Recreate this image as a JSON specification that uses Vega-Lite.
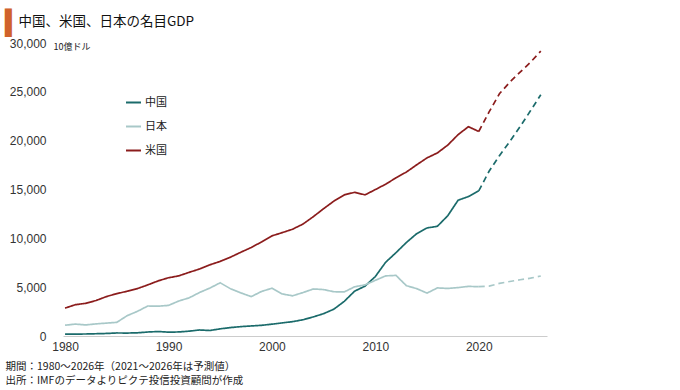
{
  "$schema": "https://vega.github.io/schema/vega-lite/v6.json",
  "width": 484,
  "height": 293,
  "autosize": {"type": "none"},
  "padding": {"left": 63, "top": 43, "right": 133, "bottom": 54},
  "background": "white",
  "config": {"view": {"stroke": null}, "font": "Noto Sans CJK JP"},
  "title": {
    "text": "▍",
    "subtitle": "\u200b\u3000中国、米国、日本の名目GDP",
    "anchor": "start",
    "frame": "group",
    "dx": -58,
    "offset": 1,
    "font": "DejaVu Sans",
    "fontSize": 24,
    "fontWeight": "normal",
    "color": "#d0622a",
    "subtitleFont": "Noto Sans CJK JP",
    "subtitleFontSize": 13.5,
    "subtitleColor": "#111111",
    "subtitlePadding": -21.5
  },
  "data": {
    "values": [
      {"year": 1980, "中国": 191, "日本": 1105, "米国": 2857, "kind": "実績"},
      {"year": 1981, "中国": 196, "日本": 1218, "米国": 3207, "kind": "実績"},
      {"year": 1982, "中国": 205, "日本": 1134, "米国": 3343, "kind": "実績"},
      {"year": 1983, "中国": 231, "日本": 1243, "米国": 3634, "kind": "実績"},
      {"year": 1984, "中国": 260, "日本": 1318, "米国": 4037, "kind": "実績"},
      {"year": 1985, "中国": 310, "日本": 1398, "米国": 4339, "kind": "実績"},
      {"year": 1986, "中国": 301, "日本": 2079, "米国": 4580, "kind": "実績"},
      {"year": 1987, "中国": 327, "日本": 2527, "米国": 4855, "kind": "実績"},
      {"year": 1988, "中国": 408, "日本": 3072, "米国": 5236, "kind": "実績"},
      {"year": 1989, "中国": 457, "日本": 3054, "米国": 5642, "kind": "実績"},
      {"year": 1990, "中国": 395, "日本": 3133, "米国": 5963, "kind": "実績"},
      {"year": 1991, "中国": 414, "日本": 3585, "米国": 6158, "kind": "実績"},
      {"year": 1992, "中国": 494, "日本": 3908, "米国": 6520, "kind": "実績"},
      {"year": 1993, "中国": 617, "日本": 4454, "米国": 6859, "kind": "実績"},
      {"year": 1994, "中国": 564, "日本": 4907, "米国": 7287, "kind": "実績"},
      {"year": 1995, "中国": 734, "日本": 5449, "米国": 7640, "kind": "実績"},
      {"year": 1996, "中国": 863, "日本": 4834, "米国": 8073, "kind": "実績"},
      {"year": 1997, "中国": 961, "日本": 4415, "米国": 8578, "kind": "実績"},
      {"year": 1998, "中国": 1029, "日本": 4033, "米国": 9063, "kind": "実績"},
      {"year": 1999, "中国": 1094, "日本": 4562, "米国": 9631, "kind": "実績"},
      {"year": 2000, "中国": 1211, "日本": 4888, "米国": 10252, "kind": "実績"},
      {"year": 2001, "中国": 1339, "日本": 4304, "米国": 10582, "kind": "実績"},
      {"year": 2002, "中国": 1471, "日本": 4115, "米国": 10936, "kind": "実績"},
      {"year": 2003, "中国": 1660, "日本": 4446, "米国": 11458, "kind": "実績"},
      {"year": 2004, "中国": 1955, "日本": 4815, "米国": 12214, "kind": "実績"},
      {"year": 2005, "中国": 2286, "日本": 4755, "米国": 13037, "kind": "実績"},
      {"year": 2006, "中国": 2752, "日本": 4530, "米国": 13815, "kind": "実績"},
      {"year": 2007, "中国": 3552, "日本": 4515, "米国": 14452, "kind": "実績"},
      {"year": 2008, "中国": 4594, "日本": 5038, "米国": 14713, "kind": "実績"},
      {"year": 2009, "中国": 5102, "日本": 5231, "米国": 14449, "kind": "実績"},
      {"year": 2010, "中国": 6087, "日本": 5700, "米国": 14992, "kind": "実績"},
      {"year": 2011, "中国": 7552, "日本": 6157, "米国": 15543, "kind": "実績"},
      {"year": 2012, "中国": 8532, "日本": 6203, "米国": 16197, "kind": "実績"},
      {"year": 2013, "中国": 9570, "日本": 5156, "米国": 16785, "kind": "実績"},
      {"year": 2014, "中国": 10476, "日本": 4850, "米国": 17527, "kind": "実績"},
      {"year": 2015, "中国": 11062, "日本": 4389, "米国": 18238, "kind": "実績"},
      {"year": 2016, "中国": 11233, "日本": 4923, "米国": 18745, "kind": "実績"},
      {"year": 2017, "中国": 12310, "日本": 4867, "米国": 19543, "kind": "実績"},
      {"year": 2018, "中国": 13895, "日本": 4955, "米国": 20612, "kind": "実績"},
      {"year": 2019, "中国": 14280, "日本": 5082, "米国": 21433, "kind": "実績"},
      {"year": 2020, "中国": 14860, "日本": 5048, "米国": 20940, "kind": "実績"},
      {"year": 2020, "中国": 14860, "日本": 5048, "米国": 20940, "kind": "予測"},
      {"year": 2021, "中国": 16863, "日本": 5103, "米国": 22940, "kind": "予測"},
      {"year": 2022, "中国": 18463, "日本": 5383, "米国": 24800, "kind": "予測"},
      {"year": 2023, "中国": 19911, "日本": 5584, "米国": 25990, "kind": "予測"},
      {"year": 2024, "中国": 21443, "日本": 5760, "米国": 27020, "kind": "予測"},
      {"year": 2025, "中国": 23054, "日本": 5921, "米国": 28020, "kind": "予測"},
      {"year": 2026, "中国": 24700, "日本": 6140, "米国": 29170, "kind": "予測"}
    ]
  },
  "transform": [{"fold": ["中国", "日本", "米国"], "as": ["country", "value"]}],
  "mark": {"type": "line", "strokeWidth": 1.7},
  "encoding": {
    "x": {
      "field": "year",
      "type": "quantitative",
      "scale": {"domain": [1979.8, 2026.6], "nice": false, "zero": false},
      "axis": {
        "values": [1980, 1990, 2000, 2010, 2020],
        "format": "d",
        "grid": false,
        "ticks": false,
        "domainColor": "#cccccc",
        "labelFont": "Liberation Sans",
        "labelFontSize": 12,
        "labelColor": "#333333",
        "labelPadding": 5,
        "title": ["期間：1980～2026年（2021～2026年は予測値）", "出所：IMFのデータよりピクテ投信投資顧問が作成"],
        "titleFont": "Noto Sans CJK JP",
        "titleFontSize": 10.5,
        "titleFontWeight": "normal",
        "titleColor": "#222222",
        "titleAnchor": "start",
        "titleAlign": "left",
        "titleBaseline": "top",
        "titleLineHeight": 14,
        "titleX": -58,
        "titleY": 25
      }
    },
    "y": {
      "field": "value",
      "type": "quantitative",
      "scale": {"domain": [0, 30000], "nice": false},
      "axis": {
        "values": [0, 5000, 10000, 15000, 20000, 25000, 30000],
        "format": ",d",
        "grid": false,
        "ticks": false,
        "domain": false,
        "labelFont": "Liberation Sans",
        "labelFontSize": 12,
        "labelColor": "#333333",
        "labelPadding": 17,
        "title": "10億ドル",
        "titleFont": "Noto Sans CJK JP",
        "titleFontSize": 9,
        "titleFontWeight": "normal",
        "titleColor": "#222222",
        "titleAngle": 0,
        "titleAlign": "left",
        "titleBaseline": "middle",
        "titleX": -10,
        "titleY": 3
      }
    },
    "color": {
      "field": "country",
      "type": "nominal",
      "scale": {"domain": ["中国", "日本", "米国"], "range": ["#1b6b6b", "#a8c8c8", "#8b1c1c"]},
      "legend": {
        "title": null,
        "orient": "none",
        "legendX": 62,
        "legendY": 51,
        "symbolType": "stroke",
        "symbolSize": 225,
        "symbolStrokeWidth": 2,
        "labelFont": "Noto Sans CJK JP",
        "labelFontSize": 11,
        "labelColor": "#222222",
        "labelOffset": 3,
        "rowPadding": 10
      }
    },
    "strokeDash": {
      "field": "kind",
      "type": "nominal",
      "scale": {"domain": ["実績", "予測"], "range": [[1, 0], [6, 4]]},
      "legend": null
    }
  }
}
